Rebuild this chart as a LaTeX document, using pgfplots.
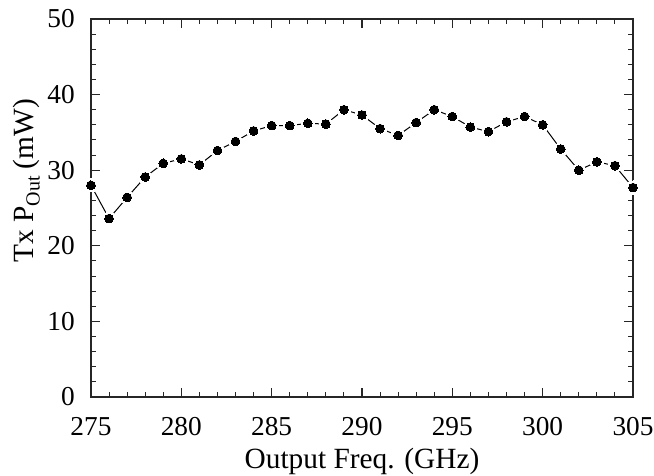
\documentclass[border=0pt]{standalone}
\usepackage{fontspec}
\setmainfont{Liberation Serif}
\usepackage{pgfplots}
\pgfplotsset{compat=1.18}

\pgfplotstableread{
f p
275 28.0
276 23.6
277 26.4
278 29.1
279 30.9
280 31.5
281 30.7
282 32.6
283 33.8
284 35.2
285 35.9
286 35.9
287 36.2
288 36.1
289 38.0
290 37.3
291 35.5
292 34.6
293 36.3
294 38.0
295 37.1
296 35.7
297 35.1
298 36.4
299 37.1
300 36.0
301 32.8
302 30.0
303 31.1
304 30.6
305 27.7
}\txdata

\begin{document}
\begin{tikzpicture}
\begin{axis}[
    scale only axis,
    width=406.5pt, height=283.5pt,
    xmin=275, xmax=305,
    ymin=0, ymax=50,
    xtick={275,280,...,305},
    ytick={0,10,...,50},
    minor x tick num=4,
    minor y tick num=4,
    tick align=inside,
    major tick length=6.75pt,
    minor tick length=3.4pt,
    axis line style={line width=1pt, black!85},
    every tick/.style={line width=0.8pt, black!85},
    axis on top,
    /pgf/number format/assume math mode=true,
    tick label style={font=\fontsize{20.5}{22}\selectfont, inner sep=0pt},
    xticklabel style={yshift=-15pt},
    yticklabel style={xshift=-12pt},
    label style={font=\fontsize{22}{24}\selectfont, inner sep=0pt},
    xlabel={Output Freq. (GHz)},
    ylabel={Tx P\raisebox{-0.45ex}{\fontsize{15}{16}\selectfont Out} (mW)},
    xlabel style={at={(axis description cs:0.5,-0.135)}, anchor=north},
    ylabel style={at={(axis description cs:-0.094,0.572)}, anchor=south},
]
\addplot[black, line width=0.75pt, mark=none] table[x=f, y=p] {\txdata};
\addplot[only marks, mark=*, mark size=5pt, mark options={fill=white, draw=white, line width=0pt}] table[x=f, y=p] {\txdata};
\addplot[only marks, mark=*, mark size=3.3pt, mark options={fill=black, draw=black, line width=0pt}] table[x=f, y=p] {\txdata};
\coordinate (sw) at (rel axis cs:0,0);
\coordinate (ne) at (rel axis cs:1,1);
\end{axis}
\pgfresetboundingbox
\path ([shift={(-68.25pt,-59.25pt)}]sw) rectangle ([shift={(15.75pt,14.25pt)}]ne);
\end{tikzpicture}
\end{document}
